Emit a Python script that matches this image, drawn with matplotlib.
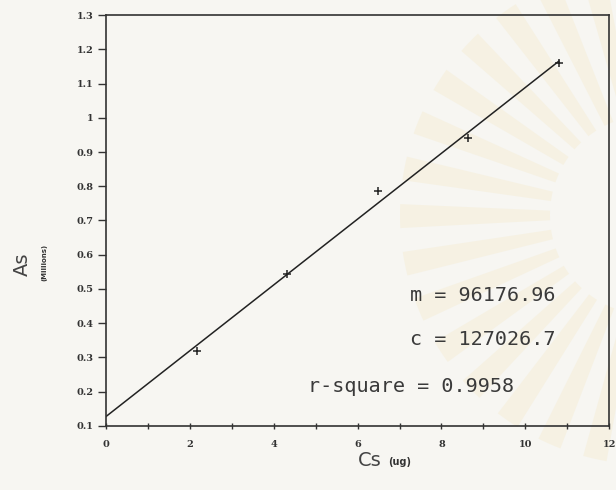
import numpy as np
import matplotlib
matplotlib.use("Agg")
import matplotlib.pyplot as plt
from matplotlib.patches import Wedge

# standard concentrations and measured areas (areas in millions)
cs = [2.16, 4.32, 6.48, 8.64, 10.8]
As = [0.320, 0.544, 0.786, 0.940, 1.161]

## regression results printed on the plot
m = 96176.96
c = 127026.7
r2 = 0.9958

xticks = [0, 2, 4, 6, 8, 10, 12]
yticks = [0.1, 0.2, 0.3, 0.4, 0.5, 0.6, 0.7, 0.8, 0.9, 1.0, 1.1, 1.2, 1.3]

paper = '#f7f6f2'

fig = plt.figure(figsize=(6.16, 4.9), dpi=100, facecolor=paper)

# faint sunburst printed on the paper behind the graph
bg = fig.add_axes([0, 0, 1, 1], zorder=-1)
bg.set_xlim(0, 616)
bg.set_ylim(490, 0)
bg.axis('off')
for a in range(100, 260, 11):
    bg.add_patch(Wedge((650, 215), 250, a, a + 5.5, width=150,
                       facecolor='#f4e6bd', edgecolor='none', alpha=0.28))

ax = fig.add_axes([0.172, 0.131, 0.817, 0.838])
ax.set_facecolor('none')

# fitted line from x = 0 up to the last standard
xl = np.array([0, cs[-1]])
ax.plot(xl, (m*xl + c)/1e6, color='#222222', lw=1.1)
ax.plot(cs, As, ls='none', marker='+', ms=6, mew=1.1, color='#222222')

ax.set_xlim(0, 12)
ax.set_ylim(0.1, 1.3)
ax.set_xticks(xticks)
ax.set_xticks(range(0, 13), minor=True)
ax.set_yticks(yticks)
ax.set_xticklabels(['%g' % v for v in xticks])
ax.set_yticklabels(['%g' % v for v in yticks])

for sp in ax.spines.values():
    sp.set_linewidth(1.2)
    sp.set_color('#333333')

ax.tick_params(axis='y', direction='out', length=6, width=1.0, pad=3,
               labelsize=7, colors='#333333')
ax.tick_params(axis='x', which='both', direction='inout', length=5, width=1.0,
               pad=8, labelsize=7, colors='#333333')
for lab in ax.get_xticklabels() + ax.get_yticklabels():
    lab.set_fontfamily('DejaVu Serif')
    lab.set_fontweight('bold')

# regression summary
mono = dict(family='DejaVu Sans Mono', fontsize=14.5, color='#3a3a3a', va='center')
ax.text(7.26, 0.482, 'm = %.2f' % m, **mono)
ax.text(7.26, 0.351, 'c = %.1f' % c, **mono)
ax.text(4.82, 0.214, 'r-square = %.4f' % r2, **mono)

# axis titles
fig.text(0.036, 0.46, 'As', rotation=90, fontsize=14, color='#444444',
         ha='center', va='center')
fig.text(0.072, 0.465, '(Millions)', rotation=90, fontsize=5, color='#333333',
         fontweight='bold', ha='center', va='center')
fig.text(0.600, 0.061, 'Cs', fontsize=14, color='#444444', ha='center', va='center')
fig.text(0.648, 0.058, '(ug)', fontsize=7, color='#333333', fontweight='bold',
         ha='center', va='center')

fig.savefig('out.png', dpi=100, facecolor=paper)
